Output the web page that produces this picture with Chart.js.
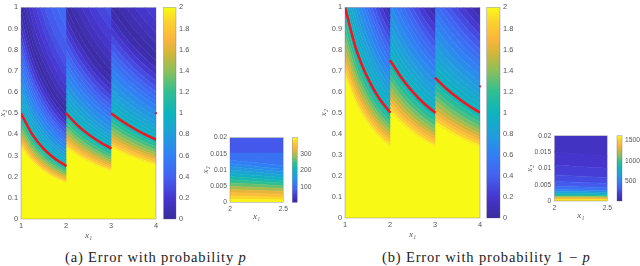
<!DOCTYPE html>
<html>
<head>
<meta charset="utf-8">
<script src="https://cdn.jsdelivr.net/npm/chart.js@4"></script>
<style>
    html, body { margin: 0; padding: 0; background: #fff; }
    body { position: relative; width: 640px; height: 266px; overflow: hidden; }
    canvas { position: absolute; filter: blur(.4px); }
    .caption { position: absolute; top: 249px; font: 14.5px/16px "Liberation Serif", serif; letter-spacing: .85px; color: #222; white-space: nowrap; }
    .caption i { font-style: italic; }
</style>
</head>
<body>
<canvas id="cnv-main-a"></canvas>
<canvas id="cnv-bar-a"></canvas>
<canvas id="cnv-inset-a"></canvas>
<canvas id="cnv-insetbar-a"></canvas>
<canvas id="cnv-main-b"></canvas>
<canvas id="cnv-bar-b"></canvas>
<canvas id="cnv-inset-b"></canvas>
<canvas id="cnv-insetbar-b"></canvas>
<div class="caption" style="left:65px">(a) Error with probability <i>p</i></div>
<div class="caption" style="left:382px">(b) Error with probability 1 &minus; <i>p</i></div>
<script>
//--------------------------------------
// Data
//--------------------------------------
// strips overlap by a hair at x = 2 and x = 3 so no seam shows
var xLeft = [1, 1.25, 1.5, 1.75, 2.01];
var xMid = [2, 2.25, 2.5, 2.75, 3.01];
var xRight = [3, 3.25, 3.5, 3.75, 4];
var xInset = [2, 2.25, 2.5];

var mainTicksX = [1, 2, 3, 4];
var mainTicksY = [0, 0.1, 0.2, 0.3, 0.4, 0.5, 0.6, 0.7, 0.8, 0.9, 1];
var barTicks = [0, 0.2, 0.4, 0.6, 0.8, 1, 1.2, 1.4, 1.6, 1.8, 2];
var insetTicksX = [2, 2.5];
var insetTicksY = [0, 0.005, 0.01, 0.015, 0.02];
var insetBarTicksA = [100, 200, 300];
var insetBarTicksB = [500, 1000, 1500];
var insetRangeA = [4, 400];
var insetRangeB = [0, 1620];

// value of the error inside each band, going up from the x axis
var bandValuesA = [2, 1.95, 1.85, 1.75, 1.65, 1.55, 1.45, 1.35, 1.25, 1.15, 1.05, .98, .94, .895, .845, .795, .74, .675, .605, .545, .49, .43, .365, .295, .22, .14, .06, .03, .075, .125, .175, .225, .275, .325, .375, .42, .47, .53];
var bandValuesB = [2, 1.95, 1.85, 1.75, 1.65, 1.55, 1.45, 1.35, 1.25, 1.15, 1.05, .98, .94, .895, .845, .795, .74, .675, .605, .545, .49, .43, .365, .295, .22, .14, .06, .03];

// band edges (x2) of panel (a), one row per edge
var edgesA1 = [
    [.333, .267, .222, .190, .167],
    [.345, .276, .230, .197, .173],
    [.357, .286, .238, .204, .179],
    [.37, .296, .247, .211, .185],
    [.385, .308, .256, .220, .192],
    [.4, .32, .267, .229, .2],
    [.417, .333, .278, .238, .208],
    [.435, .348, .29, .249, .218],
    [.455, .364, .303, .260, .227],
    [.475, .38, .317, .271, .238],
    [.5, .4, .333, .286, .25],
    [.52, .416, .347, .297, .26],
    [.541, .432, .360, .309, .270],
    [.565, .452, .377, .323, .283],
    [.588, .471, .392, .336, .294],
    [.615, .492, .41, .351, .308],
    [.645, .516, .430, .369, .323],
    [.68, .544, .453, .389, .34],
    [.714, .571, .476, .408, .357],
    [.74, .592, .493, .423, .37],
    [.769, .615, .513, .440, .385],
    [.8, .64, .533, .457, .4],
    [.833, .667, .556, .476, .417],
    [.87, .696, .58, .497, .435],
    [.909, .727, .606, .519, .455],
    [.95, .76, .633, .543, .475],
    [1, .8, .667, .571, .5],
    [1.05, .84, .7, .6, .525],
    [1.111, .889, .741, .635, .556],
    [1.175, .94, .783, .671, .588],
    [1.25, 1, .833, .714, .625],
    [1.335, 1.068, .89, .763, .668],
    [1.429, 1.143, .952, .816, .714],
    [1.525, 1.22, 1.017, .871, .763],
    [1.667, 1.333, 1.111, .952, .833],
    [1.8, 1.44, 1.2, 1.029, .9],
    [2, 1.6, 1.333, 1.143, 1]
];
var edgesA2 = [
    [.333, .296, .267, .242, .222],
    [.345, .307, .276, .251, .230],
    [.357, .317, .286, .260, .238],
    [.37, .329, .296, .269, .247],
    [.385, .342, .308, .280, .256],
    [.4, .356, .32, .291, .267],
    [.417, .370, .333, .303, .278],
    [.435, .387, .348, .316, .29],
    [.455, .404, .364, .331, .303],
    [.475, .422, .38, .345, .317],
    [.5, .444, .4, .364, .333],
    [.52, .462, .416, .378, .347],
    [.541, .480, .432, .393, .360],
    [.565, .502, .452, .411, .377],
    [.588, .523, .471, .428, .392],
    [.615, .547, .492, .447, .41],
    [.645, .573, .516, .469, .430],
    [.68, .604, .544, .495, .453],
    [.714, .635, .571, .519, .476],
    [.74, .658, .592, .538, .493],
    [.769, .684, .615, .559, .513],
    [.8, .711, .64, .582, .533],
    [.833, .741, .667, .606, .556],
    [.87, .773, .696, .633, .58],
    [.909, .808, .727, .661, .606],
    [.95, .844, .76, .691, .633],
    [1, .889, .8, .727, .667],
    [1.05, .933, .84, .764, .7],
    [1.111, .988, .889, .808, .741],
    [1.175, 1.044, .94, .855, .783],
    [1.25, 1.111, 1, .909, .833],
    [1.335, 1.187, 1.068, .971, .89],
    [1.429, 1.270, 1.143, 1.039, .952],
    [1.525, 1.356, 1.22, 1.109, 1.017],
    [1.667, 1.481, 1.333, 1.212, 1.111],
    [1.8, 1.6, 1.44, 1.309, 1.2],
    [2, 1.778, 1.6, 1.455, 1.333]
];
var edgesA3 = [
    [.333, .308, .286, .267, .25],
    [.345, .318, .296, .276, .259],
    [.357, .330, .306, .286, .268],
    [.37, .342, .317, .296, .278],
    [.385, .355, .330, .308, .288],
    [.4, .369, .343, .32, .3],
    [.417, .385, .357, .333, .313],
    [.435, .402, .373, .348, .326],
    [.455, .420, .390, .364, .341],
    [.475, .438, .407, .38, .356],
    [.5, .462, .429, .4, .375],
    [.52, .48, .446, .416, .39],
    [.541, .499, .463, .432, .405],
    [.565, .522, .484, .452, .424],
    [.588, .543, .504, .471, .441],
    [.615, .568, .527, .492, .461],
    [.645, .595, .553, .516, .484],
    [.68, .628, .583, .544, .51],
    [.714, .659, .612, .571, .536],
    [.74, .683, .634, .592, .555],
    [.769, .710, .659, .615, .577],
    [.8, .738, .686, .64, .6],
    [.833, .769, .714, .667, .625],
    [.87, .803, .746, .696, .653],
    [.909, .839, .779, .727, .682],
    [.95, .877, .814, .76, .713],
    [1, .923, .857, .8, .75],
    [1.05, .969, .9, .84, .788],
    [1.111, 1.026, .952, .889, .833],
    [1.175, 1.085, 1.007, .94, .881],
    [1.25, 1.154, 1.071, 1, .938],
    [1.335, 1.232, 1.144, 1.068, 1.001],
    [1.429, 1.319, 1.224, 1.143, 1.071],
    [1.525, 1.408, 1.307, 1.22, 1.144],
    [1.667, 1.538, 1.429, 1.333, 1.25],
    [1.8, 1.662, 1.543, 1.44, 1.35],
    [2, 1.846, 1.714, 1.6, 1.5]
];

// band edges of panel (b)
var edgesB1 = [
    [.667, .533, .444, .381, .333],
    [.69, .552, .460, .394, .345],
    [.714, .571, .476, .408, .357],
    [.74, .592, .493, .423, .37],
    [.769, .615, .513, .440, .385],
    [.8, .64, .533, .457, .4],
    [.833, .667, .556, .476, .417],
    [.87, .696, .58, .497, .435],
    [.909, .727, .606, .519, .455],
    [.95, .76, .633, .543, .475],
    [1, .8, .667, .571, .5],
    [1.04, .832, .693, .594, .52],
    [1.081, .865, .721, .618, .541],
    [1.13, .904, .753, .646, .565],
    [1.176, .941, .784, .672, .588],
    [1.23, .984, .82, .703, .615],
    [1.29, 1.032, .860, .737, .645],
    [1.36, 1.088, .907, .777, .68],
    [1.429, 1.143, .952, .816, .714],
    [1.48, 1.184, .987, .846, .74],
    [1.538, 1.231, 1.026, .879, .769],
    [1.6, 1.28, 1.067, .914, .8],
    [1.667, 1.333, 1.111, .952, .833],
    [1.74, 1.392, 1.16, .994, .87],
    [1.818, 1.455, 1.212, 1.039, .909],
    [1.9, 1.52, 1.267, 1.086, .95],
    [2, 1.6, 1.333, 1.143, 1]
];
var edgesB2 = [
    [.5, .444, .4, .364, .333],
    [.518, .460, .414, .376, .345],
    [.536, .476, .429, .390, .357],
    [.555, .493, .444, .404, .37],
    [.577, .513, .462, .420, .385],
    [.6, .533, .48, .436, .4],
    [.625, .556, .5, .455, .417],
    [.653, .58, .522, .475, .435],
    [.682, .606, .545, .496, .455],
    [.713, .633, .57, .518, .475],
    [.75, .667, .6, .545, .5],
    [.78, .693, .624, .567, .52],
    [.811, .721, .649, .590, .541],
    [.848, .753, .678, .616, .565],
    [.882, .784, .706, .642, .588],
    [.923, .82, .738, .671, .615],
    [.968, .860, .774, .704, .645],
    [1.02, .907, .816, .742, .68],
    [1.071, .952, .857, .779, .714],
    [1.11, .987, .888, .807, .74],
    [1.154, 1.026, .923, .839, .769],
    [1.2, 1.067, .96, .873, .8],
    [1.25, 1.111, 1, .909, .833],
    [1.305, 1.16, 1.044, .949, .87],
    [1.364, 1.212, 1.091, .992, .909],
    [1.425, 1.267, 1.14, 1.036, .95],
    [1.5, 1.333, 1.2, 1.091, 1]
];
var edgesB3 = [
    [.444, .410, .381, .356, .333],
    [.460, .425, .394, .368, .345],
    [.476, .440, .408, .381, .357],
    [.493, .455, .423, .395, .37],
    [.513, .473, .440, .410, .385],
    [.533, .492, .457, .427, .4],
    [.556, .513, .476, .444, .417],
    [.58, .535, .497, .464, .435],
    [.606, .559, .519, .485, .455],
    [.633, .585, .543, .507, .475],
    [.667, .615, .571, .533, .5],
    [.693, .64, .594, .555, .52],
    [.721, .665, .618, .577, .541],
    [.753, .695, .646, .603, .565],
    [.784, .724, .672, .627, .588],
    [.82, .757, .703, .656, .615],
    [.860, .794, .737, .688, .645],
    [.907, .837, .777, .725, .68],
    [.952, .879, .816, .762, .714],
    [.987, .911, .846, .789, .74],
    [1.026, .947, .879, .821, .769],
    [1.067, .985, .914, .853, .8],
    [1.111, 1.026, .952, .889, .833],
    [1.16, 1.071, .994, .928, .87],
    [1.212, 1.119, 1.039, .970, .909],
    [1.267, 1.169, 1.086, 1.013, .95],
    [1.333, 1.231, 1.143, 1.067, 1]
];

// the red curves and the stray red dot at the right edge
var redA = [
    [.5, .4, .333, .286, .25],
    [.5, .444, .4, .364, .333],
    [.5, .462, .429, .4, .375]
];
var redB = [
    [1, .8, .667, .571, .5],
    [.75, .667, .6, .545, .5],
    [.667, .615, .571, .533, .5]
];
var dotA = [{x: 4, y: .5}];
var dotB = [{x: 4, y: .625}];

// insets: bands and their edges
var insetValuesA = [395, 375, 350, 325, 295, 265, 240, 215, 190, 170, 150, 135, 120, 105, 75];
var insetEdgesA = [
    [.001, .0009, .0008],
    [.002, .0018, .0017],
    [.003, .0028, .0025],
    [.004, .0037, .0034],
    [.005, .0046, .0043],
    [.006, .0056, .0051],
    [.007, .0065, .006],
    [.008, .0074, .0068],
    [.009, .0083, .0077],
    [.01, .0093, .0085],
    [.011, .0102, .0094],
    [.012, .0111, .0102],
    [.013, .0122, .0113],
    [.0152, .0152, .0152]
];
var insetValuesB = [1560, 1350, 1150, 950, 800, 650, 520, 400, 300, 240, 190, 150, 120];
var insetEdgesB = [
    [.0005, .0005, .0005],
    [.001, .001, .0009],
    [.0014, .0014, .0013],
    [.0018, .0018, .0017],
    [.0022, .0022, .0021],
    [.0028, .0028, .0026],
    [.0035, .0034, .0032],
    [.0045, .0043, .0041],
    [.006, .0057, .0054],
    [.008, .0076, .0072],
    [.011, .0105, .01],
    [.015, .0144, .0136]
];

//--------------------------------------
// Colours
//--------------------------------------
var parula = [
    [0, '#3a2a9e'], [.1, '#4636d0'], [.2, '#4461f2'], [.3, '#3180f5'],
    [.4, '#1fa0da'], [.5, '#0db4bd'], [.6, '#2fbf91'], [.7, '#8cc05a'],
    [.78, '#d0b63a'], [.85, '#fbb53c'], [.93, '#fbd12e'], [1, '#f8fa15']
];

var hexToRgb = function(hex){
    return [1, 3, 5].map(function(i){ return parseInt(hex.substr(i, 2), 16); });
};

var colourAt = function(f){
    f = Math.max(0, Math.min(1, f));
    for(var i = 1; i < parula.length; i++){
        if(f <= parula[i][0]){
            var a = hexToRgb(parula[i - 1][1]);
            var b = hexToRgb(parula[i][1]);
            var k = (f - parula[i - 1][0]) / (parula[i][0] - parula[i - 1][0]);
            return 'rgb(' + a.map(function(c, j){ return Math.round(c + (b[j] - c) * k); }).join(',') + ')';
        }
    }
    return parula[parula.length - 1][1];
};

//--------------------------------------
// Chart helpers
//--------------------------------------
var tickColor = '#555';
var tickFont = {family: '"Liberation Sans", sans-serif', size: 7.4};
var smallTickFont = {family: '"Liberation Sans", sans-serif', size: 6.7};
var labelFont = {family: '"Liberation Serif", serif', size: 9, style: 'italic'};

var framePlugin = {
    id: 'frame',
    afterDraw: function(chart){
        var a = chart.chartArea;
        chart.ctx.save();
        chart.ctx.strokeStyle = 'rgba(95,95,125,.55)';
        chart.ctx.lineWidth = .6;
        chart.ctx.strokeRect(a.left, a.top, a.right - a.left, a.bottom - a.top);
        chart.ctx.restore();
    }
};

var fmt = function(v){
    return String(+(+v).toFixed(3));
};

// a linear axis showing exactly the listed ticks
var axis = function(range, ticks, font, extra){
    var opts = {
        type: 'linear',
        min: range[0],
        max: range[1],
        grid: {display: false, drawTicks: false},
        border: {display: false},
        afterBuildTicks: function(s){
            s.ticks = ticks.map(function(v){ return {value: v}; });
        },
        ticks: {
            color: tickColor,
            font: font,
            padding: 3,
            autoSkip: false,
            maxRotation: 0,
            callback: fmt
        }
    };
    return Object.assign(opts, extra);
};

var axisTitle = function(text){
    return {display: true, text: text, color: '#555', font: labelFont, padding: 0};
};

// canvas box c, plot rectangle p, both in page pixels
var setChart = function(id, c, p, scales, type, datasets){
    var cnv = document.getElementById(id);
    cnv.width = c.right - c.left;
    cnv.height = c.bottom - c.top;
    cnv.style.left = c.left + 'px';
    cnv.style.top = c.top + 'px';

    scales.x.afterFit = function(s){ s.height = c.bottom - p.bottom; };
    scales.y.afterFit = function(s){
        s.width = scales.y.position === 'right' ? c.right - p.right : p.left - c.left;
    };

    return new Chart(cnv, {
        type: type,
        data: {datasets: datasets},
        plugins: [framePlugin],
        options: {
            responsive: false,
            animation: false,
            events: [],
            layout: {padding: {
                top: p.top - c.top,
                left: scales.y.position === 'right' ? p.left - c.left : 0,
                right: scales.y.position === 'right' ? 0 : c.right - p.right,
                bottom: 0
            }},
            plugins: {legend: {display: false}, tooltip: {enabled: false}},
            scales: scales
        }
    });
};

var lineSet = function(xs, ys, colour, fill){
    return {
        data: ys.map(function(y, i){ return {x: xs[i], y: y}; }),
        borderColor: colour,
        backgroundColor: colour,
        borderWidth: .8,
        pointRadius: 0,
        cubicInterpolationMode: 'monotone',
        fill: fill
    };
};

// band edges become lines, each filled down to the edge below it
var bandDatasets = function(xs, edges, values, range){
    var out = [];
    var colourOf = function(v){
        return colourAt((v - range[0]) / (range[1] - range[0]));
    };
    edges.forEach(function(row, i){
        out.push(lineSet(xs, row, colourOf(values[i]), i === 0 ? 'start' : '-1'));
    });
    out.push(lineSet(xs, edges[edges.length - 1], colourOf(values[edges.length]), 'end'));
    return out;
};

var redSet = function(xs, ys){
    return {
        data: ys.map(function(y, i){ return {x: xs[i], y: y}; }),
        borderColor: '#f5141e',
        borderWidth: 2.5,
        pointRadius: 0,
        cubicInterpolationMode: 'monotone',
        fill: false,
        order: -1
    };
};

var dotSet = function(pts){
    return {
        data: pts,
        showLine: false,
        pointRadius: 1.1,
        pointBackgroundColor: '#f5141e',
        pointBorderWidth: 0,
        clip: false,
        order: -2
    };
};

var setMain = function(id, c, p, edges, values, red, dot){
    var xs = [xLeft, xMid, xRight];
    var range = [0, 2];
    var sets = [];
    edges.forEach(function(strip, i){
        sets = sets.concat(bandDatasets(xs[i], strip, values, range));
    });
    red.forEach(function(ys, i){
        sets.push(redSet(xs[i], ys));
    });
    sets.push(dotSet(dot));
    setChart(id, c, p, {
        x: axis([1, 4], mainTicksX, tickFont, {title: axisTitle('x\u2081')}),
        y: axis([0, 1], mainTicksY, tickFont, {title: axisTitle('x\u2082')})
    }, 'line', sets);
};

var setInset = function(id, c, p, edges, values, range){
    setChart(id, c, p, {
        x: axis([2, 2.5], insetTicksX, smallTickFont, {title: axisTitle('x\u2081')}),
        y: axis([0, .02], insetTicksY, smallTickFont, {title: axisTitle('x\u2082')})
    }, 'line', bandDatasets(xInset, edges, values, range));
};

var setColorbar = function(id, c, p, range, ticks, font){
    var fillBar = function(ctx){
        var area = ctx.chart.chartArea;
        if(!area){ return parula[0][1]; }
        var g = ctx.chart.ctx.createLinearGradient(0, area.bottom, 0, area.top);
        parula.forEach(function(s){ g.addColorStop(s[0], s[1]); });
        return g;
    };
    setChart(id, c, p, {
        x: {type: 'category', labels: ['z'], grid: {display: false, drawTicks: false}, border: {display: false}, ticks: {display: false}},
        y: axis(range, ticks, font, {position: 'right'})
    }, 'bar', [{
        data: [range],
        backgroundColor: fillBar,
        barPercentage: 1,
        categoryPercentage: 1
    }]);
};

setMain('cnv-main-a', {left: -3, top: 0, right: 163, bottom: 241}, {left: 21, top: 6.5, right: 156, bottom: 219},
    [edgesA1, edgesA2, edgesA3], bandValuesA, redA, dotA);
setColorbar('cnv-bar-a', {left: 160, top: 0, right: 200, bottom: 232}, {left: 163.5, top: 6.5, right: 176, bottom: 219},
    [0, 2], barTicks, tickFont);
setInset('cnv-inset-a', {left: 200, top: 128, right: 291, bottom: 222}, {left: 230, top: 137.5, right: 283.5, bottom: 202.5},
    insetEdgesA, insetValuesA, insetRangeA);
setColorbar('cnv-insetbar-a', {left: 290, top: 128, right: 320, bottom: 212}, {left: 292.3, top: 137.5, right: 297.3, bottom: 202.5},
    insetRangeA, insetBarTicksA, smallTickFont);

setMain('cnv-main-b', {left: 318, top: 0, right: 487, bottom: 240}, {left: 345, top: 3.5, right: 480, bottom: 218},
    [edgesB1, edgesB2, edgesB3], bandValuesB, redB, dotB);
setColorbar('cnv-bar-b', {left: 484, top: 0, right: 525, bottom: 230}, {left: 486.7, top: 3.5, right: 500, bottom: 218},
    [0, 2], barTicks, tickFont);
setInset('cnv-inset-b', {left: 524, top: 126, right: 615, bottom: 221}, {left: 554.3, top: 135.7, right: 607.7, bottom: 201},
    insetEdgesB, insetValuesB, insetRangeB);
setColorbar('cnv-insetbar-b', {left: 614, top: 126, right: 640, bottom: 212}, {left: 617, top: 135.7, right: 622, bottom: 201},
    insetRangeB, insetBarTicksB, smallTickFont);
</script>
</body>
</html>
